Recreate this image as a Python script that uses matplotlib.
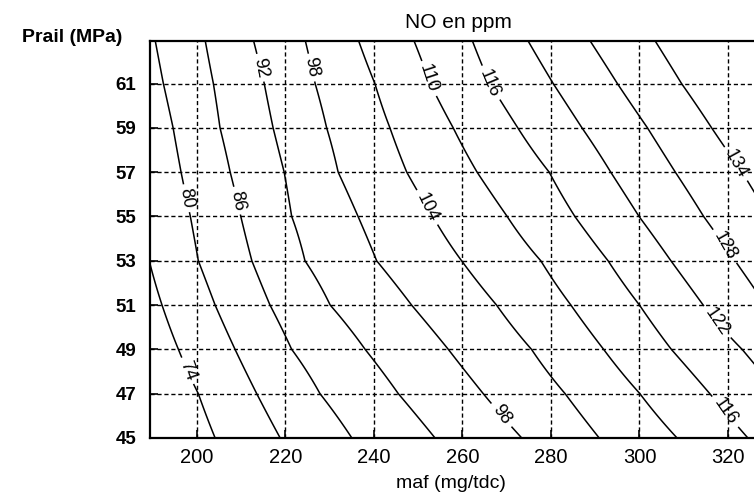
import numpy as np
import matplotlib.pyplot as plt

plt.rcParams['font.family'] = ['Liberation Sans', 'DejaVu Sans']

# Prail rows (MPa) and NO levels (ppm)
prail = [45, 47, 49, 51, 53, 55, 57, 59, 61, 63]
levels = [68, 74, 80, 86, 92, 98, 104, 110, 116, 122, 128, 134, 140]

# maf (mg/tdc) where each NO level crosses each Prail row
# (values outside the frame are estimates)
maf_68 = [189.9, 186.0, 182.5, 179.5, 177.0, 175.0, 173.5, 172.0, 170.0, 168.0]
maf_74 = [204.1, 200.3, 195.8, 192.1, 189.2, 187.0, 185.5, 183.5, 181.0, 179.0]
maf_80 = [218.8, 213.5, 208.6, 204.1, 200.3, 198.5, 196.4, 194.6, 192.4, 190.5]
maf_86 = [235.0, 227.8, 221.4, 216.5, 212.4, 209.9, 207.5, 205.2, 203.7, 201.8]
maf_92 = [253.8, 245.5, 238.0, 230.1, 224.4, 221.4, 219.7, 217.2, 215.2, 212.7]
maf_98 = [273.4, 264.7, 256.8, 248.5, 240.6, 236.4, 231.9, 229.3, 226.7, 224.4]
maf_104 = [290.9, 283.2, 275.6, 267.7, 259.8, 253.3, 247.4, 243.6, 240.2, 236.4]
maf_110 = [308.5, 300.1, 291.9, 284.5, 277.7, 270.1, 263.3, 257.9, 252.7, 248.9]
maf_116 = [324.5, 315.9, 307.2, 300.0, 292.9, 285.4, 279.6, 272.5, 266.2, 262.1]
maf_122 = [341.0, 331.5, 323.2, 314.4, 307.1, 299.9, 293.5, 287.0, 280.5, 274.6]
maf_128 = [357.0, 347.0, 339.0, 328.5, 321.6, 314.5, 308.1, 301.8, 295.0, 288.6]
maf_134 = [373.0, 363.0, 355.0, 343.0, 336.0, 329.3, 323.2, 316.3, 309.5, 303.3]
maf_140 = [389.0, 379.0, 371.0, 358.0, 351.0, 344.0, 338.0, 331.0, 324.6, 318.0]

# where the contour labels sit (maf, Prail)
label_pos = [(197.3, 48.0), (196.8, 55.8), (208.6, 55.7), (213.9, 61.7),
             (225.2, 61.7), (251.9, 55.4), (251.9, 61.2), (265.8, 61.0),
             (268.5, 46.0), (319.5, 46.2), (317.2, 50.2), (318.7, 53.6),
             (321.0, 57.3)]

crossings = np.array([maf_68, maf_74, maf_80, maf_86, maf_92, maf_98, maf_104,
                      maf_110, maf_116, maf_122, maf_128, maf_134, maf_140])
maf = np.linspace(170, 340, 1361)
Z = np.array([np.interp(maf, crossings[:, i], levels) for i in range(len(prail))])

fig = plt.figure(figsize=(7.54, 5.01), dpi=100)
ax = fig.add_axes([150 / 754, 63 / 501, 604 / 754, 397 / 501])

ax.grid(True, color='k', linestyle=(0, (3, 2)), linewidth=1.0)
ax.set_axisbelow(True)

cs = ax.contour(maf, prail, Z, levels=levels, colors='k', linewidths=1.1)
ax.clabel(cs, manual=label_pos, inline=True, fmt='%d',
          fontsize=13, inline_spacing=4)

ax.set_xlim(189.38, 325.88)
ax.set_ylim(45, 62.92)
ax.set_xticks([200, 220, 240, 260, 280, 300, 320])
ax.set_yticks([45, 47, 49, 51, 53, 55, 57, 59, 61])
ax.tick_params(direction='in', length=6, width=1.2, top=False, right=False)
ax.tick_params(axis='x', pad=7)
ax.tick_params(axis='y', pad=10)
for lab in ax.get_yticklabels():
    lab.set_fontsize(13.5)
    lab.set_fontweight('bold')
for lab in ax.get_xticklabels():
    lab.set_fontsize(14.5)

ax.spines['right'].set_visible(False)
for s in ['top', 'left', 'bottom']:
    ax.spines[s].set_linewidth(1.6)

fig.text(458 / 754, 1 - 22 / 501, 'NO en ppm', ha='center', va='center', fontsize=15)
fig.text(22 / 754, 1 - 38 / 501, 'Prail (MPa)', ha='left', va='center',
         fontsize=14, fontweight='bold')
fig.text(451 / 754, 1 - 483 / 501, 'maf (mg/tdc)', ha='center', va='center', fontsize=14)

fig.savefig('out.png', dpi=100)
